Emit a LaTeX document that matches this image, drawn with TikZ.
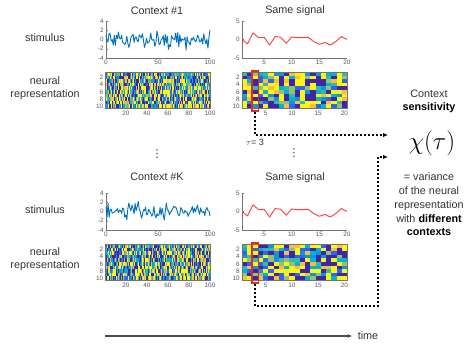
\documentclass[tikz,border=0pt]{standalone}
\usepackage{fontspec}
\setmainfont{Liberation Sans}
\newfontfamily\symfont{DejaVu Sans}
\usetikzlibrary{arrows.meta, positioning}

\definecolor{stimblue}{RGB}{0,114,189}
\definecolor{samered}{RGB}{255,60,60}
\definecolor{selred}{RGB}{235,40,30}
\definecolor{hm1}{rgb}{0.24,0.15,0.66}
\colorlet{hm2}{hm1}
\colorlet{hm3}{hm1}
\definecolor{hm4}{rgb}{0.17,0.40,0.95}
\definecolor{hm5}{rgb}{0.07,0.58,0.86}
\definecolor{hm6}{rgb}{0.02,0.70,0.82}
\definecolor{hm7}{rgb}{0.20,0.73,0.66}
\definecolor{hm8}{rgb}{0.60,0.75,0.45}
\definecolor{hm9}{rgb}{0.98,0.74,0.26}
\definecolor{hm10}{rgb}{0.98,0.96,0.08}
\colorlet{hm11}{hm10}
\colorlet{hm12}{hm10}

% heat map: left x, ncols, cell width, seed (rows 72..108)
\newcommand{\drawheat}[4]{%
  \pgfmathsetseed{#4}
  \foreach \c in {1,...,#2} {
    \foreach \r in {1,...,10} {
      \pgfmathrandominteger{\cidx}{1}{12}
      \fill[hm\cidx] ({#1+(\c-1)*#3},{72+(\r-1)*3.6}) rectangle ++({#3+0.3},3.9);
    }
  }
  \draw[frame] (#1,72) rectangle ({#1+#2*#3},108);
  \foreach \v in {2,4,6,8,10}
    \node[tick, anchor=east] (hy\v) at ({#1-1.5},{72+(\v-0.5)*3.6}) {\v};
}

% one row of panels, shifted down by #1, seed #2
\newcommand{\drawpanel}[2]{%
  \begin{scope}[shift={(0,#1)}]
    % stimulus trace
    \draw[axis] (106,21) -- (106,58) -- (210,58);
    \foreach \v in {4,2,0,-2,-4} {
      \draw[axis] (106,{39.5-4.625*\v}) -- ++(1.5,0);
      \node[tick, anchor=east] (sy\v) at (104.5,{39.5-4.625*\v}) {\v};
    }
    \foreach \v in {0,50,100}
      \node[tick, anchor=north] (sx\v) at ({106+1.04*\v},59.5) {\v};
    \pgfmathsetseed{#2}
    \draw[stim] (106,35) \foreach \i in {1,...,100} {
      -- ({106+1.04*\i},{39.5-4.2*(rand+rand+rand)}) };
    % same signal
    \draw[axis] (242,21) -- (242,58) -- (347,58);
    \foreach \v in {5,0,-5} {
      \draw[axis] (242,{39.5-3.7*\v}) -- ++(1.5,0);
      \node[tick, anchor=east] (ry\v) at (240.5,{39.5-3.7*\v}) {\v};
    }
    \foreach \v in {5,10,15,20}
      \node[tick, anchor=north] (rx\v) at ({242+(\v-1)*5.526},59.5) {\v};
    \draw[same] (242,39.5) \foreach \v [count=\i from 2] in
      {-1.2,1.8,0.5,0.6,-1.5,0.8,0.6,-1.0,0.7,0.5,0.5,0.6,-0.6,-1.3,-0.8,-1.5,-0.5,0.8,0} {
      -- ({242+(\i-1)*5.526},{39.5-3.7*\v}) };
    % neural representations
    \drawheat{105.5}{100}{1.05}{#2}
    \foreach \v in {20,40,60,80,100}
      \node[tick, anchor=north] (hx\v) at ({105.5+(\v-0.5)*1.05},110) {\v};
    \pgfmathtruncatemacro{\seedb}{#2+7}
    \drawheat{242}{20}{5.25}{\seedb}
    \foreach \v in {5,10,15,20}
      \node[tick, anchor=north] (kx\v) at ({242+(\v-0.5)*5.25},110) {\v};
  \end{scope}
}

\begin{document}
\begin{tikzpicture}[
  x=1pt, y=-1pt,
  txt/.style={font=\fontsize{10.8}{13}\selectfont, text=black!80, inner sep=1pt, align=center},
  tick/.style={font=\fontsize{6.4}{7}\selectfont, text=black!65, inner sep=0.6pt},
  axis/.style={draw=black!55, line width=0.5pt},
  frame/.style={draw=black!55, line width=0.6pt},
  stim/.style={draw=stimblue, line width=0.9pt, line join=round},
  same/.style={draw=samered, line width=0.9pt, line join=round},
  selbox/.style={draw=selred, line width=1.3pt, minimum width=6.5pt, minimum height=40pt, inner sep=0pt},
  link/.style={dash pattern=on 2.2pt off 1.8pt, line width=1.4pt, -{Latex[length=5pt, width=4.5pt]}},
  timeline/.style={draw=black!70, line width=1.1pt, -{Latex[length=5pt, width=4pt]}}
]
\useasboundingbox (0,0) rectangle (474,356);

\drawpanel{0}{11}
\drawpanel{172}{23}

\node[txt] (ctx1) at (157,11) {Context \#1};
\node[txt] (same1) at (295,11) {Same signal};
\node[txt] (stim1) at (45,38) {stimulus};
\node[txt] (neur1) at (45,88.5) {neural\\representation};

\node[txt] (ctxk) at (157,177) {Context \#K};
\node[txt] (same2) at (295,178) {Same signal};
\node[txt] (stim2) at (45,210) {stimulus};
\node[txt] (neur2) at (45,259) {neural\\representation};

\node[txt, font=\symfont\fontsize{11}{12}\selectfont] (dots1) at (157,154) {⋮};
\node[txt, font=\symfont\fontsize{11}{12}\selectfont] (dots2) at (294,153) {⋮};

\node[selbox] (sel1) at (255.1,91) {};
\node[selbox] (sel2) at (255.1,263) {};
\node[txt, font=\fontsize{9}{10}\selectfont] (taulab) at (255,142) {$\tau$= 3};

\node[txt] (sens) at (429,101.5) {Context\\\textbf{\color{black}sensitivity}};
\node[inner sep=0pt] (chi) at (432,143) {\fontsize{30}{36}\selectfont$\chi(\tau)$};
\node[txt, font=\fontsize{10.8}{13.8}\selectfont] (expl) at (429,204.5)
  {= variance\\of the neural\\representation\\with \textbf{\color{black}different}\\\textbf{\color{black}contexts}};

\coordinate (in1) at (388,135);
\coordinate (in2) at (388,157);
\coordinate (turn) at (378,306);
\draw[link] (sel1.south) |- (in1);
\draw[link] (sel2.south) |- (turn) |- (in2);

\node[txt] (time) at (368,336) {time};
\coordinate (t0) at (105,336);
\draw[timeline] (t0) -- ([xshift=-4pt]time.west);
\end{tikzpicture}
\end{document}
